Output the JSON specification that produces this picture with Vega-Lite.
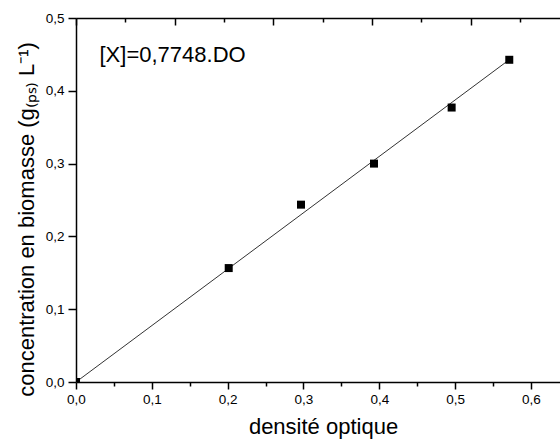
{
  "$schema": "https://vega.github.io/schema/vega-lite/v6.json",
  "width": 484,
  "height": 364,
  "autosize": "none",
  "padding": {"left": 76, "top": 18, "right": 0, "bottom": 59},
  "background": "white",
  "config": {
    "view": {"stroke": null},
    "font": "Liberation Sans",
    "axis": {
      "labelFont": "Liberation Sans",
      "titleFont": "Liberation Sans",
      "grid": false,
      "domainColor": "black",
      "domainWidth": 1.5,
      "tickColor": "black",
      "tickWidth": 1.5,
      "labelColor": "black",
      "titleColor": "black",
      "titleFontWeight": "normal",
      "labelFontSize": 13.5,
      "labelOverlap": false,
      "labelFlush": false
    }
  },
  "datasets": {
    "mesures": [
      {"do": 0.0, "x": 0.0},
      {"do": 0.2014, "x": 0.1565},
      {"do": 0.2967, "x": 0.2436},
      {"do": 0.393, "x": 0.300},
      {"do": 0.4954, "x": 0.377},
      {"do": 0.5714, "x": 0.4426}
    ],
    "ajustement": [
      {"do": 0.0, "x": 0.0},
      {"do": 0.575, "x": 0.4455}
    ],
    "annotation": [
      {"do": 0.031, "x": 0.44, "label": "[X]=0,7748.DO"}
    ],
    "axeHaut": [
      {"u": 0},
      {"u": 9.81}
    ]
  },
  "layer": [
    {
      "layer": [
        {
          "data": {"name": "ajustement"},
          "mark": {"type": "line", "color": "#333333", "strokeWidth": 1},
          "encoding": {
            "x": {
              "field": "do",
              "type": "quantitative",
              "scale": {"domain": [0, 0.6383], "nice": false, "zero": false},
              "axis": {
                "orient": "bottom",
                "values": [0, 0.05, 0.1, 0.15, 0.2, 0.25, 0.3, 0.35, 0.4, 0.45, 0.5, 0.55, 0.6],
                "labelExpr": "abs(datum.value*10 - round(datum.value*10)) < 0.001 ? replace(format(datum.value, '.1f'), '.', ',') : ''",
                "tickSize": {"condition": {"test": "abs(datum.value*10 - round(datum.value*10)) < 0.001", "value": 7}, "value": 4},
                "labelPadding": 3,
                "title": "densité optique",
                "titleFontSize": 22,
                "titleX": 247,
                "titleY": 51,
                "titleAlign": "center",
                "titleBaseline": "alphabetic"
              }
            },
            "y": {
              "field": "x",
              "type": "quantitative",
              "scale": {"domain": [0, 0.5], "nice": false, "zero": false},
              "axis": {
                "orient": "left",
                "values": [0, 0.05, 0.1, 0.15, 0.2, 0.25, 0.3, 0.35, 0.4, 0.45, 0.5],
                "labelExpr": "abs(datum.value*10 - round(datum.value*10)) < 0.001 ? replace(format(datum.value, '.1f'), '.', ',') : ''",
                "tickSize": {"condition": {"test": "abs(datum.value*10 - round(datum.value*10)) < 0.001", "value": 8}, "value": 4.5},
                "labelPadding": 4,
                "title": "concentration en biomasse (g₍ₚₛ₎ L⁻¹)",
                "titleFontSize": 22,
                "titleAngle": -90,
                "titleX": -43,
                "titleY": 201,
                "titleAlign": "center",
                "titleBaseline": "alphabetic"
              }
            }
          }
        },
        {
          "data": {"name": "mesures"},
          "mark": {"type": "point", "shape": "square", "filled": true, "color": "black", "size": 64, "opacity": 1, "clip": true},
          "encoding": {
            "x": {"field": "do", "type": "quantitative"},
            "y": {"field": "x", "type": "quantitative"}
          }
        },
        {
          "data": {"name": "annotation"},
          "mark": {"type": "text", "align": "left", "baseline": "alphabetic", "fontSize": 22, "font": "Liberation Sans", "color": "black"},
          "encoding": {
            "x": {"field": "do", "type": "quantitative"},
            "y": {"field": "x", "type": "quantitative"},
            "text": {"field": "label"}
          }
        }
      ]
    },
    {
      "data": {"name": "axeHaut"},
      "mark": {"type": "point", "opacity": 0},
      "encoding": {
        "x": {
          "field": "u",
          "type": "quantitative",
          "scale": {"domain": [0, 9.81], "nice": false, "zero": false},
          "axis": {
            "orient": "top",
            "values": [0, 1, 2, 3, 4, 5, 6, 7, 8, 9],
            "labels": false,
            "title": null,
            "tickSize": {"condition": {"test": "datum.value % 2 == 0", "value": -7}, "value": -4}
          }
        }
      }
    }
  ],
  "resolve": {"scale": {"x": "independent"}}
}
